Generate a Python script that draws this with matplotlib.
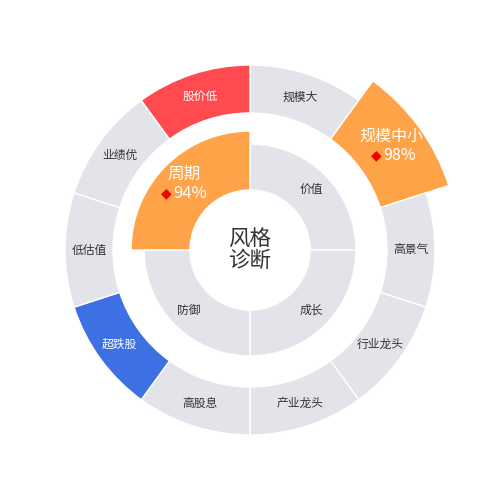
import numpy as np
import matplotlib
matplotlib.use('Agg')
import matplotlib.pyplot as plt

plt.rcParams['font.family'] = ['Noto Sans CJK SC', 'DejaVu Sans']

# outer ring, clockwise from 12 o'clock
outer_names = ['规模大', '规模中小', '高景气', '行业龙头', '产业龙头',
               '高股息', '超跌股', '低估值', '业绩优', '股价低']
outer_colors = ['#e3e4ea', '#ffa348', '#e3e4ea', '#e3e4ea', '#e3e4ea',
                '#e3e4ea', '#3d70e3', '#e3e4ea', '#e3e4ea', '#ff4a4f']
outer_pct = [None, 98, None, None, None, None, None, None, None, None]

# inner ring, clockwise from 12 o'clock
inner_names = ['价值', '成长', '防御', '周期']
inner_colors = ['#e3e4ea', '#e3e4ea', '#e3e4ea', '#ffa348']
inner_pct = [None, None, None, 94]

gray = '#e3e4ea'
txt = '#333333'


def hl_label(th, r, name, pct, fs, dx_name, dx_pct, dx_dia):
    ax.annotate(name, (th, r), xytext=(dx_name, 12), textcoords='offset pixels',
                ha='center', va='center', fontsize=fs, color='white')
    ax.annotate('%d%%' % pct, (th, r), xytext=(dx_pct, -7), textcoords='offset pixels',
                ha='center', va='center', fontsize=fs, color='white')
    ax.annotate('\u25c6', (th, r), xytext=(dx_dia, -7), textcoords='offset pixels',
                ha='center', va='center', fontsize=10, color='#ee0000',
                family='DejaVu Sans')


fig = plt.figure(figsize=(5, 5), dpi=100)
ax = fig.add_axes([0, 0, 1, 1], projection='polar')
ax.set_theta_offset(np.pi / 2)
ax.set_theta_direction(-1)
ax.set_ylim(0, 250)
ax.axis('off')

# outer ring
n = len(outer_names)
w = 2 * np.pi / n
for i, (name, col, pct) in enumerate(zip(outer_names, outer_colors, outer_pct)):
    th = (i + 0.5) * w
    h = 72 if pct is not None else 48
    ax.bar(th, h, width=w, bottom=137, color=col, edgecolor='white', linewidth=1)
    tc = 'white' if col != gray else txt
    if pct is not None:
        hl_label(th, 173, name, pct, 11.5, 1, 10, -14)
    else:
        ax.text(th, 161, name, ha='center', va='center', fontsize=8.5, color=tc)

# inner ring
m = len(inner_names)
w2 = 2 * np.pi / m
for i, (name, col, pct) in enumerate(zip(inner_names, inner_colors, inner_pct)):
    th = (i + 0.5) * w2
    h = 59 if pct is not None else 46
    ax.bar(th, h, width=w2, bottom=60, color=col, edgecolor='white', linewidth=1)
    if pct is not None:
        hl_label(th, 90, name, pct, 12, -2, 4, -20)
    else:
        ax.text(th, 86, name, ha='center', va='center', fontsize=8.5, color=txt)

ax.text(0, 0, '风格\n诊断', ha='center', va='center', fontsize=15.5, color=txt,
        linespacing=0.95)

fig.savefig('out.png', dpi=100)
